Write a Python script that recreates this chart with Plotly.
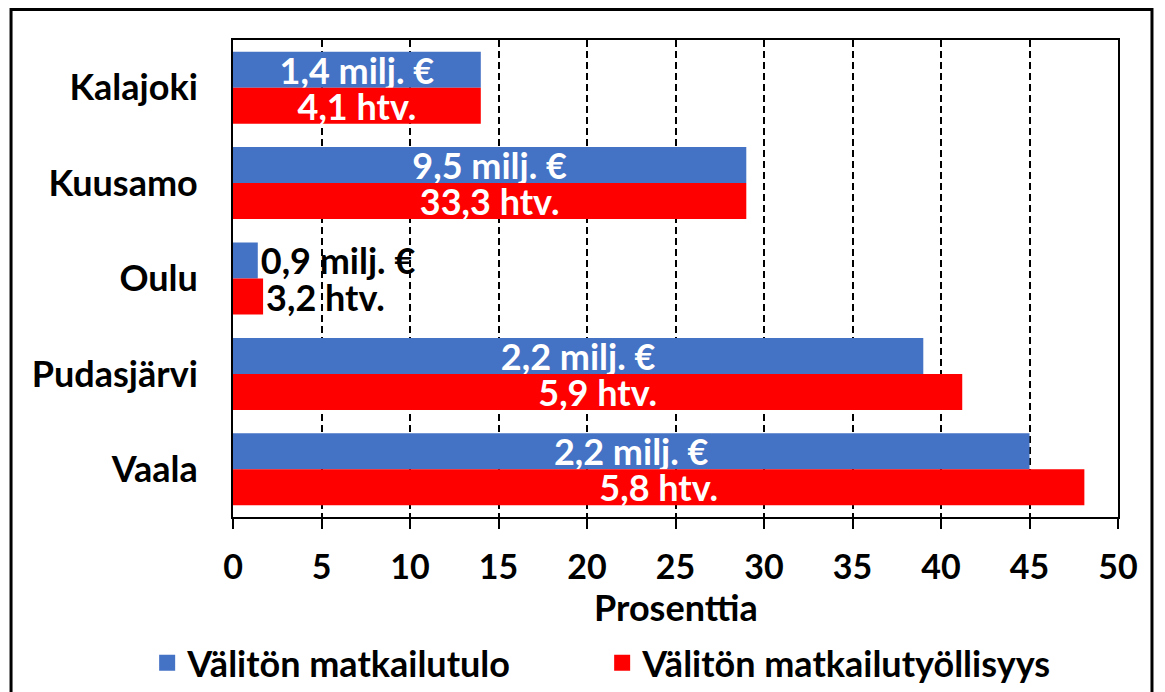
import plotly.graph_objects as go

# Data
municipalities = ["Kalajoki", "Kuusamo", "Oulu", "Pudasjärvi", "Vaala"]
income_pct = [14, 29, 1.4, 39, 45]
employment_pct = [14, 29, 1.7, 41.2, 48.1]
income_labels = ["1,4 milj. €", "9,5 milj. €", "0,9 milj. €", "2,2 milj. €", "2,2 milj. €"]
employment_labels = ["4,1 htv.", "33,3 htv.", "3,2 htv.", "5,9 htv.", "5,8 htv."]
label_positions = ["inside", "inside", "outside", "inside", "inside"]
x_ticks = [0, 5, 10, 15, 20, 25, 30, 35, 40, 45, 50]

BLUE = "#4472C4"
RED = "#FF0000"
FONT = "Lato"
FS = 36

fig = go.Figure()

for name, vals, labels, color in [
    ("Välitön matkailutulo", income_pct, income_labels, BLUE),
    ("Välitön matkailutyöllisyys", employment_pct, employment_labels, RED),
]:
    fig.add_trace(go.Bar(
        y=municipalities,
        x=vals,
        orientation='h',
        name=name,
        marker=dict(color=color, line=dict(width=0)),
        text=labels,
        textposition=label_positions,
        insidetextanchor='middle',
        constraintext='none',
        insidetextfont=dict(color='white', size=FS, family=FONT, weight='bold'),
        outsidetextfont=dict(color='black', size=FS, family=FONT, weight='bold'),
        cliponaxis=False,
        showlegend=False,
        hoverinfo='skip'
    ))
    # legend-only marker with a larger square swatch
    fig.add_trace(go.Scatter(
        x=[None], y=[None],
        mode='markers',
        name=name,
        marker=dict(symbol='square', size=22, color=color),
        showlegend=True
    ))

# outer frame around the whole chart
fig.add_shape(type='rect', xref='paper', yref='paper',
              x0=-0.2508, x1=1.0384, y0=-0.40, y1=1.064,
              line=dict(color='black', width=3), layer='above')

# x-axis title placed as an annotation so it can sit close to the tick labels
fig.add_annotation(text='Prosenttia', xref='paper', yref='paper',
                   x=0.5, y=-0.1887, xanchor='center', yanchor='middle',
                   showarrow=False,
                   font=dict(size=FS, family=FONT, weight='bold'))

fig.update_layout(
    width=1157,
    height=684,
    margin=dict(l=225, r=47, t=32, b=175, autoexpand=False),
    paper_bgcolor='white',
    plot_bgcolor='white',
    font=dict(family=FONT, size=FS, color='black', weight='bold'),
    barmode='group',
    bargap=0.245,
    bargroupgap=0,
    legend=dict(
        orientation='h',
        x=-0.097, xanchor='left',
        y=-0.306, yanchor='middle',
        font=dict(size=FS, family=FONT, weight='bold'),
        itemsizing='trace',
        traceorder='normal',
        entrywidthmode='pixels',
        entrywidth=410,
    ),
    xaxis=dict(
        range=[0, 50],
        tickvals=x_ticks,
        tickfont=dict(size=34),
        ticks='outside',
        ticklen=10,
        tickwidth=2,
        tickcolor='black',
        ticklabelstandoff=9,
        showgrid=True,
        gridcolor='black',
        gridwidth=2,
        griddash='7px,4px',
        zeroline=False,
        showline=True,
        linecolor='black',
        linewidth=2,
        mirror=True,
        automargin=False,
        fixedrange=True,
    ),
    yaxis=dict(
        autorange='reversed',
        showgrid=False,
        zeroline=False,
        showline=True,
        linecolor='black',
        linewidth=2,
        mirror=True,
        ticks='',
        ticklabelstandoff=26,
        automargin=False,
        fixedrange=True,
    ),
)

fig.write_html("out.html", config={'displayModeBar': False})
